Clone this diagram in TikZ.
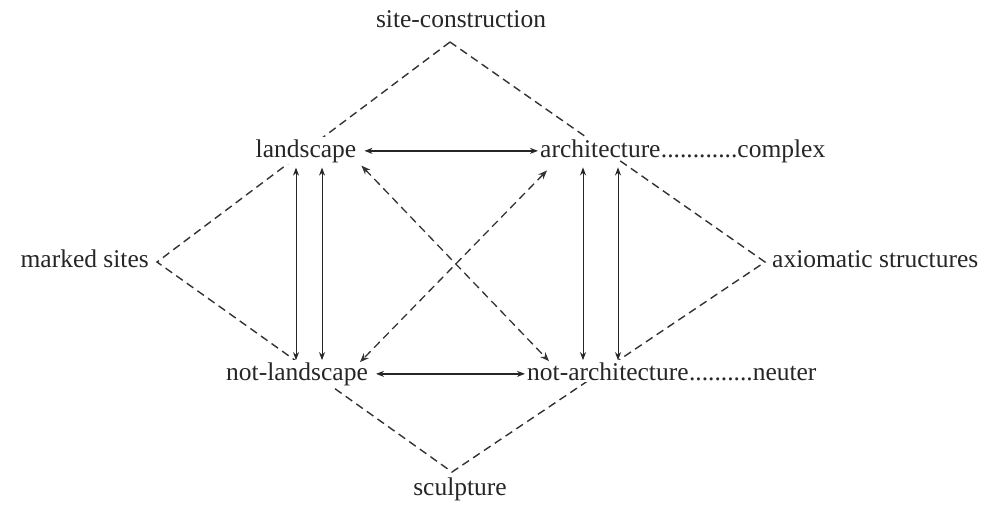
\documentclass[tikz,border=0pt]{standalone}
\usepackage{fontspec}
\setmainfont{Liberation Serif}
\usetikzlibrary{arrows.meta,calc}
\begin{document}
\begin{tikzpicture}[x=1pt,y=-1pt,
  lbl/.style={font=\fontsize{25.5}{30}\selectfont, inner sep=2pt, fill=white, text=black!85},
  dia/.style={dash pattern=on 8pt off 5pt, line width=1.4pt, draw=black!80},
  sol/.style={{Stealth[length=8pt,width=6pt]}-{Stealth[length=8pt,width=6pt]}, line width=1pt, draw=black!85},
  solh/.style={sol, line width=1.4pt},
  dsh/.style={{Stealth[length=9pt,width=7pt]}-{Stealth[length=9pt,width=7pt]}, dash pattern=on 8pt off 5pt, line width=1.3pt, draw=black!80}
]
\useasboundingbox[fill=white] (0,0) rectangle (987,507);
\coordinate (T) at (450,42);
\coordinate (Lv) at (157,262);
\coordinate (B) at (452,472);
\coordinate (Rv) at (765,262);
\draw[dia] (T) -- (Lv) -- (B) -- (Rv) -- cycle;

\node[lbl, anchor=base] (sc) at (461,27) {site-construction};
\node[lbl, anchor=base] (L) at (306,157) {landscape};
\node[lbl, anchor=base west] (A) at (538,157) {architecture};
\node[lbl, anchor=base west, inner sep=0pt] (Ac) at ([xshift=-2pt]A.base east) {............complex};
\node[lbl, anchor=base east] (ms) at (151,267) {marked sites};
\node[lbl, anchor=base west] (ax) at (770,267) {axiomatic structures};
\node[lbl, anchor=base] (NL) at (297,380) {not-landscape};
\node[lbl, anchor=base west] (NA) at (525,380) {not-architecture};
\node[lbl, anchor=base west, inner sep=0pt] (NAn) at ([xshift=-2pt]NA.base east) {..........neuter};
\node[lbl, anchor=base] (sp) at (460,495) {sculpture};

% horizontal solid double arrows
\draw[solh, shorten <=6pt] (L.east) -- (L.east -| A.west);
\draw[solh, shorten <=6pt] (NL.east) -- (NL.east -| NA.west);

% vertical solid double arrows
\draw[sol] ([xshift=-10pt,yshift=-3pt]L.south) -- ([xshift=-10pt]L.south |- NL.north);
\draw[sol] ([xshift=16pt,yshift=-3pt]L.south) -- ([xshift=16pt]L.south |- NL.north);
\draw[sol] ([xshift=45pt,yshift=-8pt]A.south west) -- ([xshift=45pt]A.south west |- NA.north);
\draw[sol] ([xshift=80pt,yshift=-8pt]A.south west) -- ([xshift=80pt]A.south west |- NA.north);

% diagonal dashed double arrows
\draw[dsh] ([xshift=3pt,yshift=-1pt]L.south east) -- ([xshift=24pt,yshift=-1pt]NA.north west);
\draw[dsh] ([xshift=9pt,yshift=-11pt]A.south west) -- ([xshift=-10pt,yshift=-2pt]NL.north east);
\end{tikzpicture}
\end{document}
